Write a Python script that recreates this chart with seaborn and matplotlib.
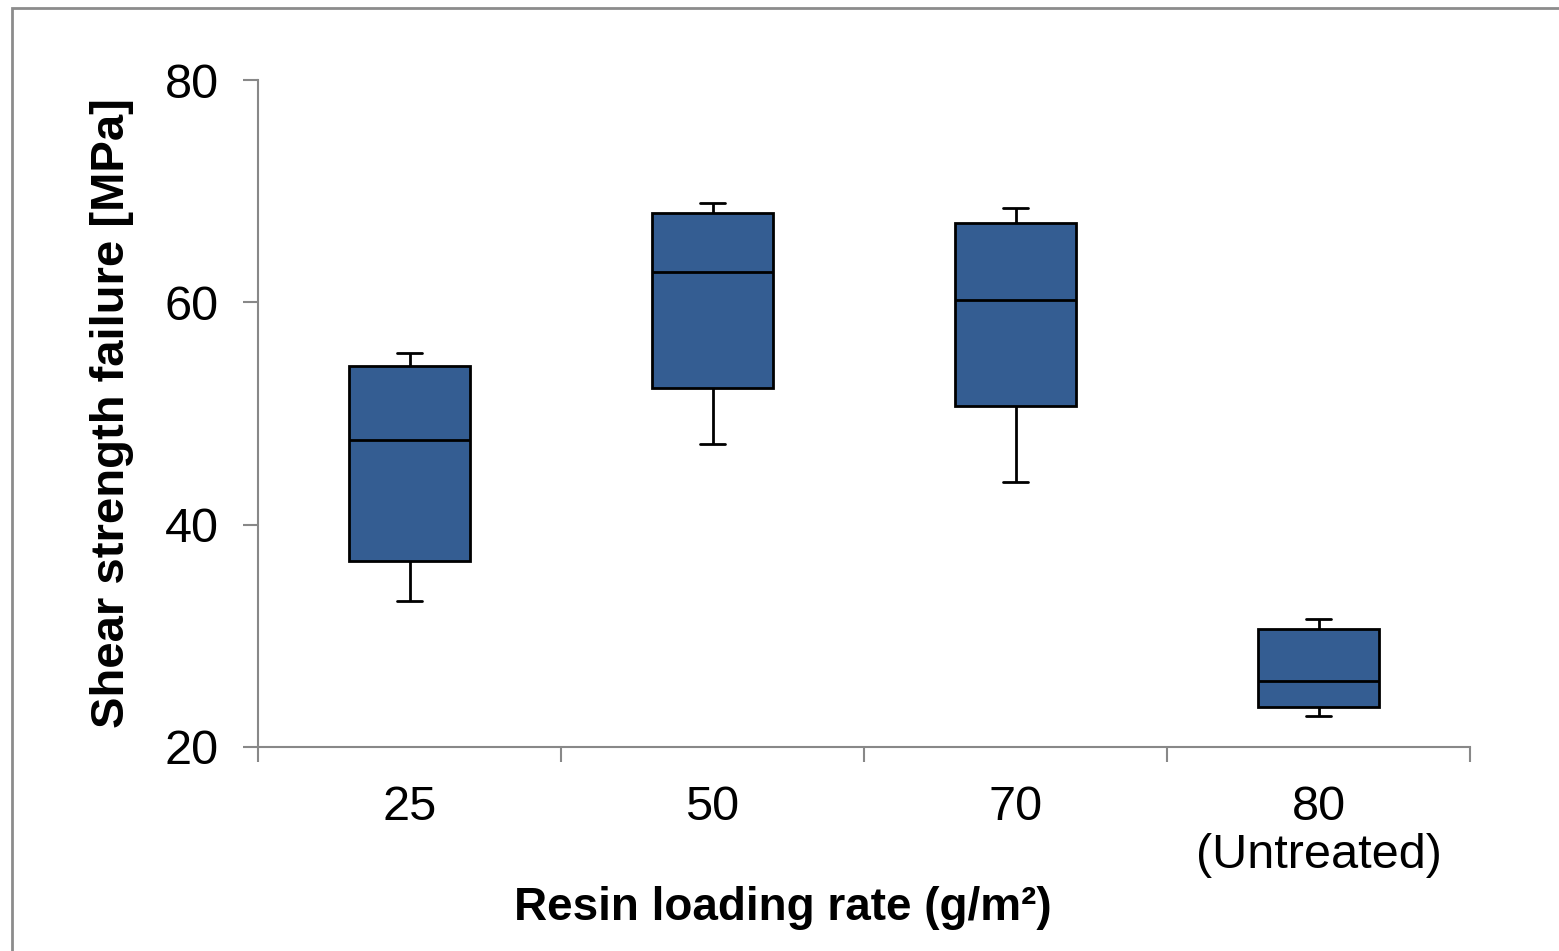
import numpy as np
import pandas as pd
import matplotlib
matplotlib.use('Agg')
import matplotlib.pyplot as plt
import seaborn as sns
from matplotlib.patches import Rectangle

# five-number summaries: min, q1, median, q3, max
categories = ['25', '50', '70', '80\n(Untreated)']
whisker_low = [33.1, 47.3, 43.8, 22.8]
box_low = [36.7, 52.3, 50.7, 23.6]
medians = [47.6, 62.7, 60.2, 25.9]
box_high = [54.3, 68.0, 67.1, 30.6]
whisker_high = [55.4, 68.9, 68.5, 31.5]
yticks = [20, 40, 60, 80]

rows = []
for i, cat in enumerate(categories):
    for v in (whisker_low[i], box_low[i], medians[i], box_high[i], whisker_high[i]):
        rows.append({'rate': cat, 'strength': v})
df = pd.DataFrame(rows)

sns.set_theme(style='white')
plt.rcParams['font.family'] = ['Liberation Sans', 'DejaVu Sans']
plt.rcParams['text.color'] = 'black'
plt.rcParams['xtick.color'] = 'black'
plt.rcParams['ytick.color'] = 'black'
plt.rcParams['axes.labelcolor'] = 'black'

fig = plt.figure(figsize=(15.59, 9.51), dpi=100)
ax = fig.add_axes([258 / 1559, 1 - 747 / 951, (1470 - 258) / 1559, (747 - 80) / 951])

sns.boxplot(data=df, x='rate', y='strength', order=categories, whis=(0, 100),
            width=0.4, color='#345D92', saturation=1, fliersize=0, ax=ax,
            linecolor='black', linewidth=2, capwidths=0.08)

ax.set_ylim(20, 80)
ax.set_xlim(-0.5, 3.5)
ax.set_yticks(yticks)
ax.set_yticklabels([str(t) for t in yticks], fontsize=35)
ax.set_xticks(range(len(categories)))
ax.set_xticklabels(categories, fontsize=35, linespacing=1.1)
ax.set_xticks(np.arange(-0.5, len(categories), 1), minor=True)
ax.tick_params(axis='x', which='major', length=0, pad=27)
ax.tick_params(axis='x', which='minor', length=11, width=1.5, color='#888888', direction='out', bottom=True)
ax.tick_params(axis='y', length=11, width=1.5, color='#888888', labelcolor='black', direction='out', left=True, pad=17)

for side in ('top', 'right'):
    ax.spines[side].set_visible(False)
for side in ('left', 'bottom'):
    ax.spines[side].set_color('#888888')
    ax.spines[side].set_linewidth(1.5)

ax.set_xlabel('Resin loading rate (g/m²)', fontsize=33, fontweight='bold')
ax.xaxis.set_label_coords(0.433, -0.208)
ax.set_ylabel('Shear strength failure [MPa]', fontsize=34, fontweight='bold', labelpad=22)

fig.add_artist(Rectangle((12 / 1559, -0.1), 1.2, 1 - 8 / 951 + 0.1, transform=fig.transFigure,
                         fill=False, edgecolor='#8c8c8c', linewidth=2))

fig.savefig('out.png', dpi=100)
